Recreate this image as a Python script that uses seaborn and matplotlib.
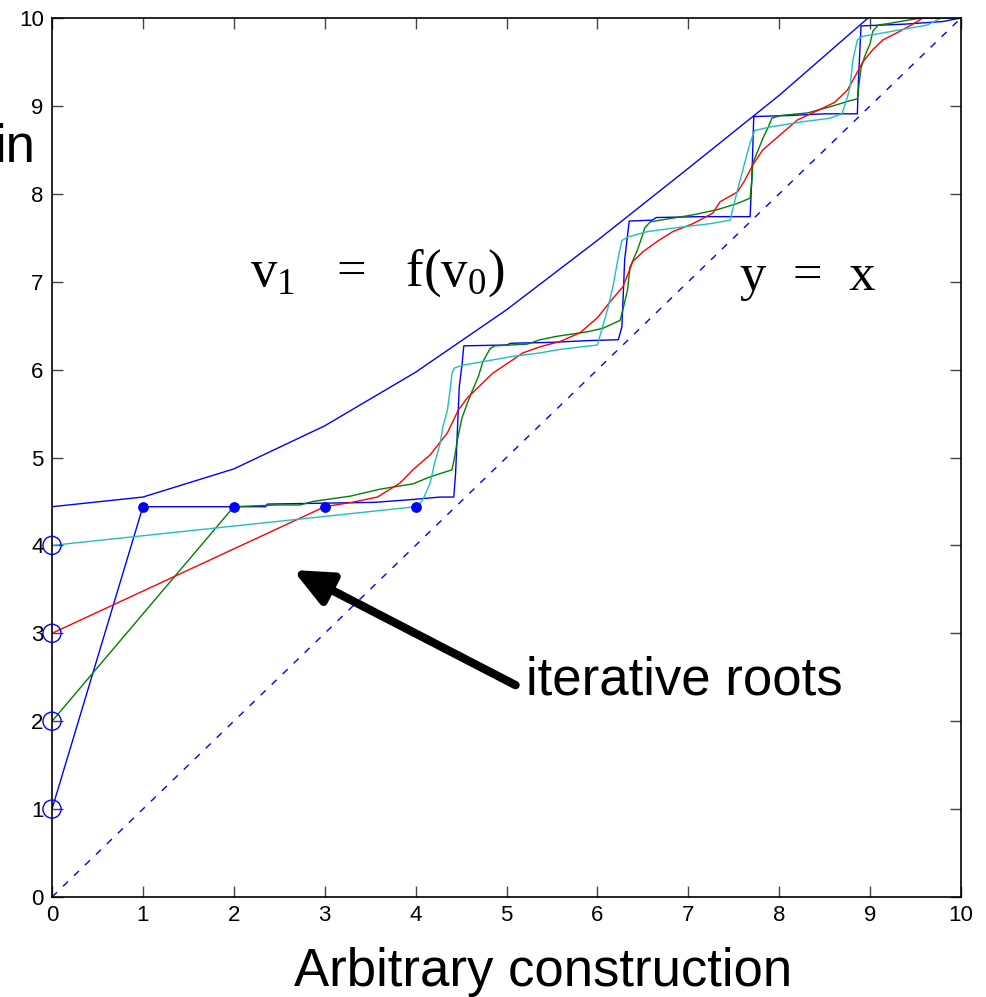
import matplotlib
matplotlib.use("Agg")
import matplotlib.pyplot as plt
import seaborn as sns
import numpy as np

# ---- data ----
f_x = [0, 1, 2, 3, 4, 5, 6, 7, 8, 9]
f_y = [4.44, 4.55, 4.87, 5.36, 5.97, 6.68, 7.47, 8.29, 9.12, 10.02]

diag_x = [0, 10]
diag_y = [0, 10]

blue_x = [0, 1.0, 2.35, 2.37, 3.55, 3.94, 4.27, 4.42, 4.44, 4.48, 4.51, 4.53,
          5.0, 5.05, 5.5, 5.9, 6.23, 6.27, 6.30, 6.35, 6.6, 6.65, 7.13, 7.68,
          7.70, 7.72, 7.76, 8.1, 8.5, 8.86, 8.87, 8.90, 9.38, 9.8, 10.0]
blue_y = [1.0, 4.44, 4.44, 4.47, 4.49, 4.52, 4.55, 4.55, 4.82, 5.80, 6.05, 6.27,
          6.28, 6.30, 6.31, 6.33, 6.34, 6.49, 7.25, 7.69, 7.70, 7.73, 7.74, 7.74,
          8.20, 8.88, 8.88, 8.89, 8.91, 8.91, 9.25, 9.91, 9.93, 9.96, 10.0]

green_x = [0, 2.0, 2.48, 2.73, 2.87, 3.28, 3.61, 3.97, 4.16, 4.40, 4.43, 4.46,
           4.51, 4.57, 4.62, 4.69, 4.74, 4.82, 4.87, 5.23, 5.37, 5.56, 5.89,
           6.06, 6.25, 6.28, 6.33, 6.36, 6.44, 6.49, 6.52, 6.58, 6.69, 7.05,
           7.32, 7.54, 7.68, 7.70, 7.71, 7.77, 7.82, 7.88, 7.92, 8.01, 8.31,
           8.56, 8.78, 8.86, 8.88, 8.90, 8.94, 9.00, 9.03, 9.09, 9.22, 9.44,
           9.58, 10.0]
green_y = [2.0, 4.44, 4.46, 4.46, 4.50, 4.56, 4.64, 4.70, 4.78, 4.86, 5.01, 5.20,
           5.45, 5.62, 5.75, 5.92, 6.09, 6.24, 6.27, 6.29, 6.34, 6.38, 6.43,
           6.47, 6.56, 6.68, 6.90, 7.17, 7.36, 7.51, 7.61, 7.68, 7.70, 7.76,
           7.82, 7.89, 7.95, 8.16, 8.35, 8.50, 8.63, 8.76, 8.86, 8.89, 8.92,
           8.99, 9.06, 9.08, 9.26, 9.43, 9.56, 9.71, 9.85, 9.92, 9.94, 9.98,
           10.0, 10.0]

red_x = [0, 3.0, 3.3, 3.58, 3.83, 3.97, 4.16, 4.35, 4.47, 4.57, 4.71, 4.85,
         5.01, 5.18, 5.37, 5.59, 5.81, 6.00, 6.17, 6.28, 6.39, 6.50, 6.66,
         6.83, 7.05, 7.27, 7.35, 7.54, 7.62, 7.71, 7.82, 8.01, 8.20, 8.45,
         8.61, 8.75, 8.81, 8.92, 9.03, 9.14, 9.33, 9.52, 9.58, 10.0]
red_y = [3.0, 4.44, 4.49, 4.55, 4.71, 4.86, 5.03, 5.28, 5.54, 5.68, 5.82, 5.96,
         6.07, 6.19, 6.26, 6.32, 6.42, 6.59, 6.81, 6.94, 7.23, 7.34, 7.46,
         7.57, 7.66, 7.78, 7.91, 8.02, 8.15, 8.33, 8.50, 8.67, 8.84, 8.96,
         9.04, 9.18, 9.29, 9.50, 9.64, 9.75, 9.85, 9.96, 10.0, 10.0]

cyan_x = [0, 4.0, 4.02, 4.08, 4.16, 4.21, 4.27, 4.30, 4.35, 4.38, 4.40, 4.43,
          4.52, 4.79, 5.07, 5.37, 5.59, 6.00, 6.03, 6.11, 6.17, 6.23, 6.27,
          6.34, 6.55, 6.91, 7.24, 7.46, 7.54, 7.62, 7.68, 7.73, 7.90, 8.26,
          8.56, 8.69, 8.75, 8.78, 8.81, 8.86, 8.91, 9.14, 9.41, 9.63, 9.74,
          9.79, 10.0]
cyan_y = [4.0, 4.44, 4.44, 4.52, 4.71, 4.94, 5.16, 5.35, 5.54, 5.77, 5.96, 6.02,
          6.05, 6.10, 6.15, 6.19, 6.23, 6.28, 6.39, 6.68, 6.94, 7.28, 7.47,
          7.51, 7.57, 7.62, 7.66, 7.70, 8.04, 8.35, 8.58, 8.72, 8.76, 8.82,
          8.86, 8.91, 9.10, 9.22, 9.52, 9.75, 9.79, 9.83, 9.88, 9.92, 9.98,
          10.0, 10.0]

start_x = [0, 0, 0, 0]
start_y = [1, 2, 3, 4]
dot_x = [1, 2, 3, 4]
dot_y = [4.44, 4.44, 4.44, 4.44]

ticks = list(range(11))

# ---- plotting ----
sns.set_theme(style="white")
plt.rcParams["font.family"] = ["Liberation Sans", "DejaVu Sans"]
plt.rcParams["mathtext.fontset"] = "custom"
plt.rcParams["mathtext.rm"] = "Liberation Serif"
plt.rcParams["text.color"] = "black"
plt.rcParams["axes.labelcolor"] = "black"

fig = plt.figure(figsize=(9.87, 9.97), dpi=100)
ax = fig.add_axes([52 / 987, 1 - 897 / 997, (961 - 52) / 987, (897 - 18) / 997])

lw = 1.0
sns.lineplot(x=f_x, y=f_y, ax=ax, color="#0000ff", lw=lw, sort=False, estimator=None)
sns.lineplot(x=diag_x, y=diag_y, ax=ax, color="#0000ff", lw=lw, sort=False,
             estimator=None, linestyle=(0, (5, 6)))
sns.lineplot(x=blue_x, y=blue_y, ax=ax, color="#0000ff", lw=lw, sort=False, estimator=None)
sns.lineplot(x=green_x, y=green_y, ax=ax, color="#008000", lw=lw, sort=False, estimator=None)
sns.lineplot(x=red_x, y=red_y, ax=ax, color="#ff0000", lw=lw, sort=False, estimator=None)
sns.lineplot(x=cyan_x, y=cyan_y, ax=ax, color="#1fbfbf", lw=lw, sort=False, estimator=None)

ax.scatter(start_x, start_y, s=170, facecolors="none", edgecolors="#0000ff",
           linewidths=1.0, zorder=5, clip_on=False)
ax.scatter(dot_x, dot_y, s=45, color="#0000ff", zorder=5, clip_on=False)

ax.set_xlim(0, 10)
ax.set_ylim(0, 10)
ax.set_xticks(ticks)
ax.set_yticks(ticks)
ax.set_xticklabels([str(t) for t in ticks])
ax.set_yticklabels([str(t) for t in ticks])
ax.tick_params(direction="in", length=8, width=1, color="#444444",
               labelsize=16, labelcolor="black", top=True, right=True,
               bottom=True, left=True, pad=6)
for s in ax.spines.values():
    s.set_visible(True)
    s.set_color("black")
    s.set_linewidth(1.2)
ax.grid(False)

ax.set_xlabel("")
ax.set_ylabel("")
fig.text(543 / 987, 1 - 986 / 997, "Arbitrary construction", fontsize=38,
         ha="center", va="baseline", color="black")

fig.text(35 / 987, 1 - 162 / 997, "in", fontsize=38, ha="right", va="baseline",
         color="black")

ax.text(2.18, 6.96, r"v$_\mathregular{1}$   =   f(v$_\mathregular{0}$)",
        fontsize=38, family="Liberation Serif", va="baseline", color="black")
ax.text(7.57, 6.9, "y  =  x", fontsize=38, family="Liberation Serif",
        va="baseline", color="black")

ax.text(5.22, 2.3, "iterative roots", fontsize=38, va="baseline", color="black")
ax.annotate("", xy=(2.65, 3.72), xytext=(5.1, 2.41),
            arrowprops=dict(arrowstyle="-|>,head_length=1.9,head_width=0.85",
                            color="black", lw=6, shrinkA=0, shrinkB=0))

fig.savefig("out.png", dpi=100)
